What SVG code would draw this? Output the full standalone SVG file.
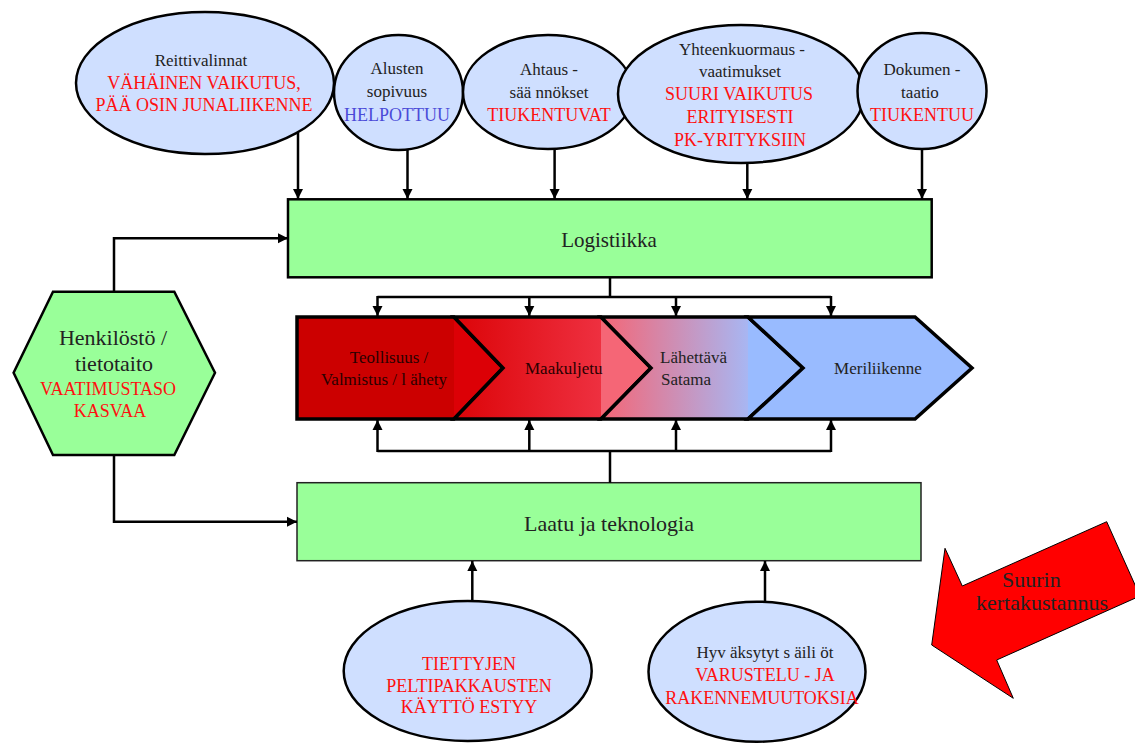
<svg xmlns="http://www.w3.org/2000/svg" width="1135" height="744" viewBox="0 0 1135 744" font-family="'Liberation Serif', 'Times New Roman', 'DejaVu Serif', serif">
<defs>
<style>
text{font-family:'Liberation Serif','Times New Roman','DejaVu Serif',serif;fill:#222}
.c{text-anchor:middle}
.r{fill:#FF1010;font-size:18px}
.b{fill:#4B4BD8;font-size:18px}
.k{font-size:17px}
.ell{fill:#CFDFFF;stroke:#000;stroke-width:2.5}
.grn{fill:#99FF99;stroke:#000;stroke-width:2.5}
.chev{stroke:#000;stroke-width:3.5;stroke-linejoin:miter}
.con{fill:none;stroke:#000;stroke-width:2.5}
.dk{fill:#2a0000;font-size:17px}
</style>
<marker id="ah" viewBox="0 0 10 10" refX="10" refY="5" markerWidth="10" markerHeight="11" markerUnits="userSpaceOnUse" orient="auto">
<path d="M0,0 L10,5 L0,10 z" fill="#000"/>
</marker>
<linearGradient id="g1" gradientUnits="userSpaceOnUse" x1="297" y1="0" x2="503" y2="0">
<stop offset="0" stop-color="#CC0000"/><stop offset="0.76" stop-color="#CC0000"/><stop offset="0.76" stop-color="#DC0006"/><stop offset="1" stop-color="#DC0006"/>
</linearGradient>
<linearGradient id="g2" gradientUnits="userSpaceOnUse" x1="454" y1="0" x2="651" y2="0">
<stop offset="0" stop-color="#DC0408"/><stop offset="0.746" stop-color="#EE3040"/><stop offset="0.746" stop-color="#F56676"/><stop offset="1" stop-color="#F56676"/>
</linearGradient>
<linearGradient id="g3" gradientUnits="userSpaceOnUse" x1="601" y1="0" x2="803" y2="0">
<stop offset="0" stop-color="#F46676"/><stop offset="0.728" stop-color="#A8B6F2"/><stop offset="0.728" stop-color="#99BBFF"/><stop offset="1" stop-color="#99BBFF"/>
</linearGradient>
</defs>
<rect width="1135" height="744" fill="#fff"/>

<g id="n-reittivalinnat">
<ellipse class="ell" cx="205" cy="83" rx="129" ry="71"/>
<text class="c k" x="201" y="66">Reittivalinnat</text>
<text class="c r" x="204" y="89">VÄHÄINEN VAIKUTUS,</text>
<text class="c r" x="204" y="111">PÄÄ OSIN JUNALIIKENNE</text>
</g>
<g id="n-alusten">
<ellipse class="ell" cx="398.5" cy="92.5" rx="64.5" ry="57.5"/>
<text class="c k" x="397" y="74">Alusten</text>
<text class="c k" x="397" y="97">sopivuus</text>
<text class="c b" x="397" y="121">HELPOTTUU</text>
</g>
<g id="n-ahtaus">
<ellipse class="ell" cx="548" cy="92" rx="85" ry="57"/>
<text class="c k" x="549" y="75">Ahtaus -</text>
<text class="c k" x="549" y="98">sää nnökset</text>
<text class="c r" x="549" y="121">TIUKENTUVAT</text>
</g>
<g id="n-yhteenkuormaus">
<ellipse class="ell" cx="741" cy="94" rx="123" ry="69"/>
<text class="c k" x="742" y="55">Yhteenkuormaus -</text>
<text class="c k" x="740" y="77">vaatimukset</text>
<text class="c r" x="739" y="100">SUURI VAIKUTUS</text>
<text class="c r" x="740" y="123">ERITYISESTI</text>
<text class="c r" x="740" y="146">PK-YRITYKSIIN</text>
</g>
<g id="n-dokumentaatio">
<ellipse class="ell" cx="922" cy="91" rx="64.5" ry="58"/>
<text class="c k" x="922" y="75">Dokumen -</text>
<text class="c k" x="920" y="98">taatio</text>
<text class="c r" x="922" y="121">TIUKENTUU</text>
</g>

<g id="n-logistiikka">
<rect class="grn" x="288" y="199.3" width="643.7" height="78"/>
<text class="c" x="609" y="247" font-size="21">Logistiikka</text>
</g>

<g id="n-henkilosto">
<polygon class="grn" points="53,291.7 174.3,291.7 215,372.7 174.3,455 53,455 13.6,372.7"/>
<text class="c" x="113" y="345" font-size="22">Henkilöstö /</text>
<text class="c" x="114" y="371" font-size="22">tietotaito</text>
<text class="c r" x="108" y="395">VAATIMUSTASO</text>
<text class="c r" x="110" y="417">KASVAA</text>
</g>

<g id="n-chain">
<polygon class="chev" fill="url(#g1)" points="297,317 454,317 503,368 454,419 297,419"/>
<polygon class="chev" fill="url(#g2)" points="454,317 601,317 651,368 601,419 454,419 503,368"/>
<polygon class="chev" fill="url(#g3)" points="601,317 748,317 803,368 748,419 601,419 651,368"/>
<polygon class="chev" fill="#99BBFF" points="748,317 915,317 972,368 915,419 748,419 803,368"/>
<text class="c dk" x="389" y="363">Teollisuus /</text>
<text class="c dk" x="384" y="385">Valmistus / l ähety</text>
<text class="dk" x="525" y="374">Maakuljetu</text>
<text class="k" x="660" y="363">Lähettävä</text>
<text class="k" x="661" y="385">Satama</text>
<text class="c k" x="878" y="374">Meriliikenne</text>
</g>

<g id="n-laatu">
<rect x="297" y="482.7" width="624" height="78" fill="#99FF99" stroke="#222" stroke-width="1.5"/>
<text class="c" x="609" y="531" font-size="22">Laatu ja teknologia</text>
</g>

<g id="n-peltipakkaukset">
<ellipse class="ell" cx="467.7" cy="671" rx="124" ry="70"/>
<text class="c r" x="469" y="670">TIETTYJEN</text>
<text class="c r" x="469" y="692">PELTIPAKKAUSTEN</text>
<text class="c r" x="469" y="713">KÄYTTÖ ESTYY</text>
</g>
<g id="n-sailiot">
<ellipse class="ell" cx="757" cy="671.7" rx="108.5" ry="70"/>
<text class="c k" x="765" y="658">Hyv äksytyt s äili öt</text>
<text class="c r" x="765" y="681">VARUSTELU - JA</text>
<text class="c r" x="762" y="704">RAKENNEMUUTOKSIA</text>
</g>

<g id="n-suurin">
<polygon points="1106.7,521.7 1140,596 996.7,660 1013.3,698.3 931.7,645 945,548.3 962.3,586" fill="#FF0000" stroke="#000" stroke-width="1"/>
<text x="1002" y="587" font-size="22" fill="#300">Suurin</text>
<text x="976" y="610" font-size="22" fill="#300">kertakustannus</text>
</g>

<g id="connectors">
<line class="con" x1="298" y1="133" x2="298" y2="199" marker-end="url(#ah)"/>
<line class="con" x1="407.5" y1="149" x2="407.5" y2="199" marker-end="url(#ah)"/>
<line class="con" x1="554.6" y1="148" x2="554.6" y2="199" marker-end="url(#ah)"/>
<line class="con" x1="747.3" y1="163" x2="747.3" y2="199" marker-end="url(#ah)"/>
<line class="con" x1="922" y1="149" x2="922" y2="199" marker-end="url(#ah)"/>
<path class="con" d="M114,291.7 V238.3 H288" marker-end="url(#ah)"/>
<path class="con" d="M114,455 V521.7 H297" marker-end="url(#ah)"/>
<line class="con" x1="610" y1="277.3" x2="610" y2="297"/>
<line class="con" x1="377.5" y1="297" x2="831" y2="297"/>
<line class="con" x1="377.5" y1="296" x2="377.5" y2="316" marker-end="url(#ah)"/>
<line class="con" x1="529.3" y1="297" x2="529.3" y2="316" marker-end="url(#ah)"/>
<line class="con" x1="676" y1="297" x2="676" y2="316" marker-end="url(#ah)"/>
<line class="con" x1="831" y1="296" x2="831" y2="316" marker-end="url(#ah)"/>
<line class="con" x1="610" y1="482.7" x2="610" y2="451"/>
<line class="con" x1="377.5" y1="451" x2="831" y2="451"/>
<line class="con" x1="377.5" y1="452" x2="377.5" y2="420" marker-end="url(#ah)"/>
<line class="con" x1="529.3" y1="451" x2="529.3" y2="420" marker-end="url(#ah)"/>
<line class="con" x1="676" y1="451" x2="676" y2="420" marker-end="url(#ah)"/>
<line class="con" x1="831" y1="452" x2="831" y2="420" marker-end="url(#ah)"/>
<line class="con" x1="472.3" y1="601" x2="472.3" y2="561" marker-end="url(#ah)"/>
<line class="con" x1="765" y1="602" x2="765" y2="561" marker-end="url(#ah)"/>
</g>
</svg>
